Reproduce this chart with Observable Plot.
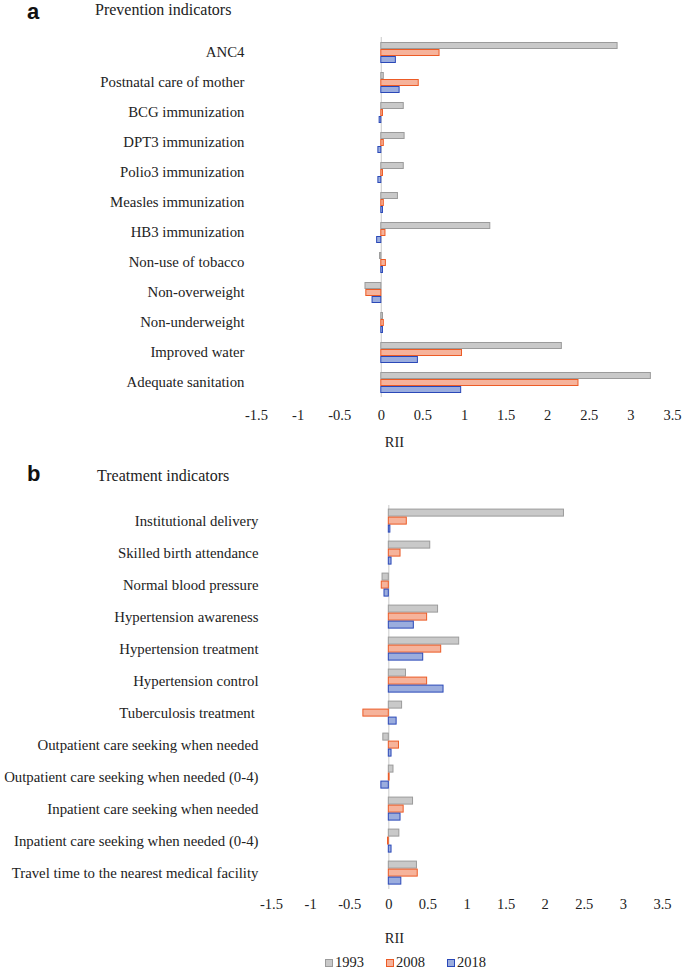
<!DOCTYPE html>
<html>
<head>
<meta charset="utf-8">
<script src="https://cdn.jsdelivr.net/npm/d3@7"></script>
<script src="https://cdn.jsdelivr.net/npm/@observablehq/plot@0.6"></script>
<style>
  html, body { margin: 0; padding: 0; background: #fff; }
  #root { position: relative; width: 683px; height: 971px; font-family: "Liberation Serif", "Times New Roman", serif; color: #222; }
  #root svg, #root svg text { font-family: "Liberation Serif", "Times New Roman", serif !important; }
  #root svg g[aria-label="fy-axis tick label"] text { font-size: 14.8px; }
  #root svg g[aria-label="x-axis tick label"] text { font-size: 14.5px; }
  .abs { position: absolute; white-space: nowrap; }
  .panel { position: absolute; left: 0; }
  .letter { font-family: "Liberation Sans", Arial, sans-serif; font-weight: bold; font-size: 22px; line-height: 1.117; color: #111; }
  .title { font-size: 16px; line-height: 1.107; }
  .rii { font-size: 14.5px; transform: translate(-50%, -50%); }
  .leg { font-size: 14.5px; display: flex; align-items: center; }
  .sw { display: inline-block; width: 6px; height: 6px; margin-right: 2px; border: 1px solid; }
</style>
</head>
<body>
<div id="root"></div>
<script>
// ---------- Data ----------
const years = ["1993", "2008", "2018"];

const categoriesA = [
  "ANC4", "Postnatal care of mother", "BCG immunization", "DPT3 immunization",
  "Polio3 immunization", "Measles immunization", "HB3 immunization",
  "Non-use of tobacco", "Non-overweight", "Non-underweight",
  "Improved water", "Adequate sanitation"
];
const a1993 = [2.84, 0.03, 0.27, 0.28, 0.27, 0.20, 1.31, -0.015, -0.19, 0.02, 2.17, 3.24];
const a2008 = [0.70, 0.45, 0.02, 0.03, 0.02, 0.03, 0.05, 0.055, -0.18, 0.03, 0.97, 2.37];
const a2018 = [0.175, 0.22, -0.02, -0.035, -0.035, 0.02, -0.05, 0.02, -0.105, 0.02, 0.44, 0.96];

const categoriesB = [
  "Institutional delivery", "Skilled birth attendance", "Normal blood pressure",
  "Hypertension awareness", "Hypertension treatment", "Hypertension control",
  "Tuberculosis treatment ", "Outpatient care seeking when needed",
  "Outpatient care seeking when needed (0-4)", "Inpatient care seeking when needed",
  "Inpatient care seeking when needed (0-4)", "Travel time to the nearest medical facility"
];
const b1993 = [2.24, 0.53, -0.08, 0.63, 0.90, 0.22, 0.17, -0.07, 0.06, 0.31, 0.135, 0.36];
const b2008 = [0.23, 0.15, -0.09, 0.49, 0.67, 0.49, -0.325, 0.13, 0.01, 0.19, -0.01, 0.37];
const b2018 = [0.02, 0.035, -0.055, 0.32, 0.44, 0.70, 0.10, 0.035, -0.095, 0.15, 0.035, 0.16];

const xTicks = [-1.5, -1, -0.5, 0, 0.5, 1, 1.5, 2, 2.5, 3, 3.5];

const fills = {"1993": "#c9c9c9", "2008": "#f6b39b", "2018": "#9badde"};
const strokes = {"1993": "#9b9b9b", "2008": "#ec5b26", "2018": "#2a48b8"};

function rows(cats, s1, s2, s3) {
  const out = [];
  cats.forEach((c, i) => {
    out.push({cat: c, year: "1993", value: s1[i]});
    out.push({cat: c, year: "2008", value: s2[i]});
    out.push({cat: c, year: "2018", value: s3[i]});
  });
  return out;
}

function panel(cats, data, opts) {
  return Plot.plot({
    width: 683,
    height: opts.height,
    marginTop: opts.marginTop,
    marginBottom: opts.marginBottom,
    marginLeft: opts.marginLeft,
    marginRight: opts.marginRight,
    style: {fontSize: "14.5px", color: "#222", background: "#fff"},
    x: {domain: [-1.5, 3.5], ticks: xTicks, tickFormat: d => String(d), tickSize: 0, tickPadding: opts.tickPadding, label: null},
    y: {domain: years, axis: null, paddingInner: 0, paddingOuter: opts.pad},
    fy: {domain: cats, padding: 0, label: null, tickSize: 0, tickPadding: opts.labelPad},
    color: {type: "identity"},
    facet: {data, y: "cat"},
    marks: [
      Plot.ruleX([0], {stroke: "#d2d2d2", strokeWidth: 1.2}),
      Plot.barX(data, {
        x: "value", y: "year",
        fill: d => fills[d.year],
        stroke: d => strokes[d.year],
        strokeWidth: 1,
        insetTop: 0.5, insetBottom: 0.5
      })
    ]
  });
}

const root = document.getElementById("root");
function addDiv(cls, html, style) {
  const d = document.createElement("div");
  d.className = "abs " + cls;
  d.innerHTML = html;
  Object.assign(d.style, style);
  root.appendChild(d);
  return d;
}

// Panel a
const pa = panel(categoriesA, rows(categoriesA, a1993, a2008, a2018), {
  height: 430, marginTop: 35, marginBottom: 32, marginLeft: 256, marginRight: 11,
  pad: 0.39, tickPadding: 12.5, labelPad: 12
});
const wa = document.createElement("div");
wa.className = "panel"; wa.style.top = "0px";
wa.appendChild(pa); root.appendChild(wa);

// Panel b
const pb = panel(categoriesB, rows(categoriesB, b1993, b2008, b2018), {
  height: 440, marginTop: 23.4, marginBottom: 30.4, marginLeft: 271, marginRight: 21,
  pad: 0.46, tickPadding: 9.5, labelPad: 13
});
const wb = document.createElement("div");
wb.className = "panel"; wb.style.top = "480px";
wb.appendChild(pb); root.appendChild(wb);

// Titles
addDiv("letter", "a", {left: "27px", top: "0px"});
addDiv("title", "Prevention indicators", {left: "95px", top: "0.8px"});
addDiv("letter", "b", {left: "27px", top: "462px"});
addDiv("title", "Treatment indicators", {left: "97px", top: "466.7px"});

// Axis titles
addDiv("rii", "RII", {left: "394.5px", top: "441.5px"});
addDiv("rii", "RII", {left: "394.5px", top: "938px"});

// Legend
const legX = [325, 386, 447];
years.forEach((y, i) => {
  addDiv("leg", `<span class="sw" style="background:${fills[y]};border-color:${strokes[y]}"></span>${y}`,
    {left: legX[i] + "px", top: "954px"});
});
</script>
</body>
</html>
